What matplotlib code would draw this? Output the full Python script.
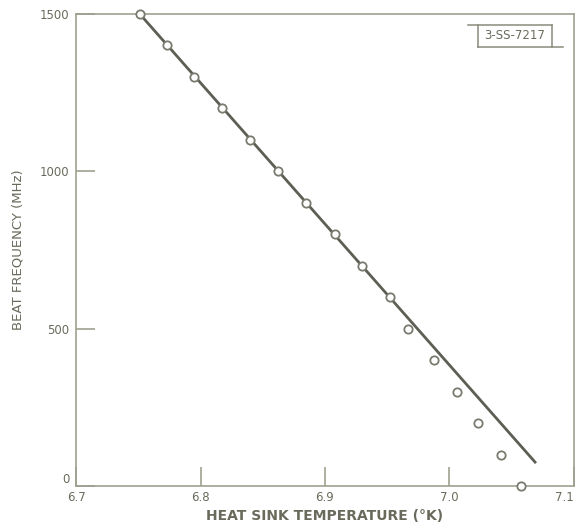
import numpy as np
import matplotlib.pyplot as plt

temp = [6.751, 6.773, 6.795, 6.817, 6.840, 6.862, 6.885, 6.908, 6.930,
        6.952, 6.967, 6.988, 7.006, 7.023, 7.042, 7.058]
freq = [1500, 1400, 1300, 1200, 1100, 1000, 900, 800, 700,
        600, 500, 400, 300, 200, 100, 0]

# straight line fitted to the upper points
line_temp = [6.751, 7.069]
line_freq = [1500, 76]

xticks = [6.7, 6.8, 6.9, 7.0, 7.1]
xticklabels = ['6.7', '6.8', '6.9', '7.0', '7.1']
yticks = [0, 500, 1000, 1500]
yticklabels = ['0', '500', '1000', '1500']

line_col = '#5e5e54'
axis_col = '#a0a090'
text_col = '#6a6a5c'

fig = plt.figure(figsize=(5.76, 5.24), dpi=100)
ax = fig.add_axes([0.1326, 0.0725, 0.8632, 0.9008])

ax.plot(line_temp, line_freq, color=line_col, lw=2.0, zorder=2)
ax.plot(temp, freq, linestyle='', marker='o', markersize=6,
        markerfacecolor='white', markeredgecolor='#7a7a70',
        markeredgewidth=1.3, zorder=3, clip_on=False)

ax.set_xlim(6.7, 7.1)
ax.set_ylim(0, 1500)
ax.set_xticks(xticks)
ax.set_xticklabels(xticklabels)
ax.set_yticks(yticks)
ax.set_yticklabels(yticklabels)
ax.tick_params(direction='in', length=14, width=1.2, colors=axis_col,
               labelcolor=text_col, labelsize=8.5)
ax.tick_params(axis='y', pad=5)
# keep the end labels clear of the corner / figure edge
ax.get_xticklabels()[-1].set_horizontalalignment('right')
ax.get_yticklabels()[0].set_verticalalignment('bottom')
for s in ax.spines.values():
    s.set_color(axis_col)
    s.set_linewidth(1.2)

ax.set_xlabel('HEAT SINK TEMPERATURE (°K)', color=text_col, fontsize=10,
              fontweight='bold', labelpad=4)
ax.set_ylabel('BEAT FREQUENCY (MHz)', color=text_col, fontsize=9.5,
              labelpad=11)

# figure number tag with its offset rules
ax.text(0.882, 0.9534, '3-SS-7217', transform=ax.transAxes, ha='center',
        va='center', fontsize=8.5, color=text_col)
tag = dict(transform=ax.transAxes, color='#8a8a7a', lw=1.1, clip_on=False)
ax.plot([0.7873, 0.9566], [0.9767, 0.9767], **tag)
ax.plot([0.8077, 0.9787], [0.9301, 0.9301], **tag)
ax.plot([0.8077, 0.8077], [0.9301, 0.9767], **tag)
ax.plot([0.9566, 0.9566], [0.9301, 0.9767], **tag)

fig.savefig('out.png', dpi=100)
